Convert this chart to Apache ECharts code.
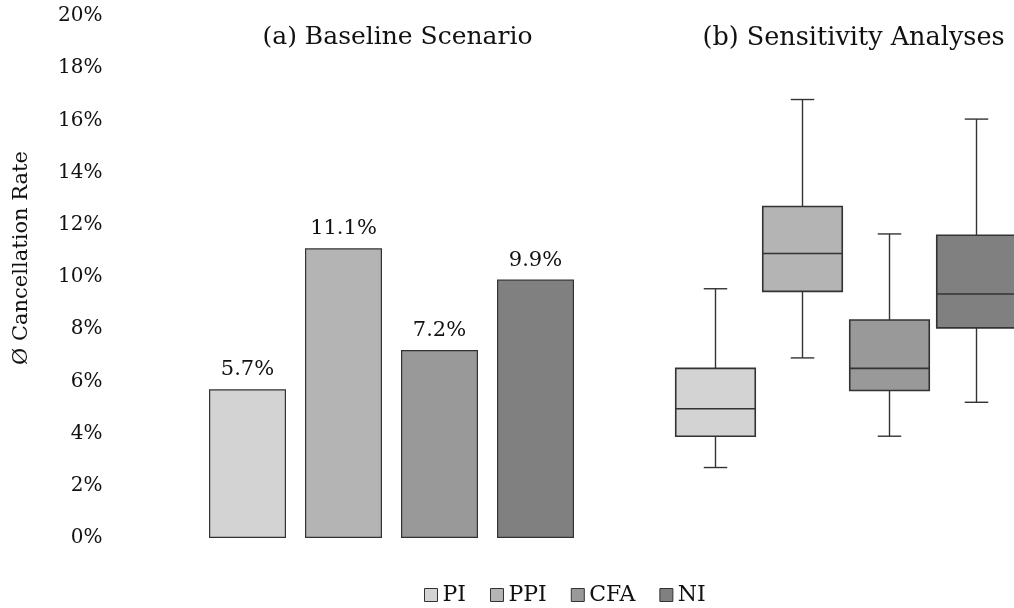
<!DOCTYPE html>
<html>
<head>
<meta charset="utf-8">
<script src="https://cdn.jsdelivr.net/npm/echarts@6/dist/echarts.min.js"></script>
<style>
  html, body { margin: 0; padding: 0; background: #fff; }
  #chart { width: 1014px; height: 608px; }
</style>
</head>
<body>
<div id="chart"></div>
<script>
// Cancellation rates per strategy (percent)
const categories = ['PI', 'PPI', 'CFA', 'NI'];
const baselineRates = [5.7, 11.1, 7.2, 9.9];

// Sensitivity analyses: whisker ends, quartiles and medians (percent)
const sensMin = [2.7, 6.9, 3.9, 5.2];
const sensQ1 = [3.9, 9.45, 5.65, 8.05];
const sensMedian = [4.95, 10.9, 6.5, 9.35];
const sensQ3 = [6.5, 12.7, 8.35, 11.6];
const sensMax = [9.55, 16.8, 11.65, 16.05];

const palette = ['#d3d3d3', '#b4b4b4', '#999999', '#808080'];
const edge = '#333333';
const FONT = 'DejaVu Serif';

const chart = echarts.init(document.getElementById('chart'), null, { renderer: 'canvas' });

const barSeries = categories.map(function (name, i) {
  return {
    name: name,
    type: 'bar',
    xAxisIndex: 0,
    yAxisIndex: 0,
    barWidth: 77,
    barGap: '-100%',
    data: categories.map(function (c, j) { return j === i ? baselineRates[i] : '-'; }),
    itemStyle: { color: palette[i], borderColor: edge, borderWidth: 1.2 },
    label: {
      show: true,
      position: 'top',
      distance: 9,
      formatter: '{c}%',
      fontFamily: FONT,
      fontSize: 21,
      color: '#111'
    },
    emphasis: { disabled: true },
    silent: true
  };
});

// Box panel uses a numeric x scale (category i sits at value i) so the
// last box can run off the right edge of the canvas.
const boxData = categories.map(function (c, i) {
  return [i, sensMin[i], sensQ1[i], sensMedian[i], sensQ3[i], sensMax[i]];
});

const boxSeries = {
  name: 'Sensitivity',
  type: 'custom',
  xAxisIndex: 1,
  yAxisIndex: 1,
  data: boxData,
  encode: { x: 0, y: [1, 2, 3, 4, 5] },
  silent: true,
  clip: false,
  renderItem: function (params, api) {
    const idx = api.value(0);
    const pMin = api.coord([idx, api.value(1)]);
    const pQ1 = api.coord([idx, api.value(2)]);
    const pMed = api.coord([idx, api.value(3)]);
    const pQ3 = api.coord([idx, api.value(4)]);
    const pMax = api.coord([idx, api.value(5)]);
    const band = api.size([1, 0])[0];
    const bw = band * 0.914;
    const cw = band * 0.27;
    const x = pMed[0];
    const lineStyle = { stroke: edge, lineWidth: 1.4, fill: null };
    return {
      type: 'group',
      children: [
        { type: 'line', shape: { x1: x, y1: pMax[1], x2: x, y2: pQ3[1] }, style: lineStyle },
        { type: 'line', shape: { x1: x, y1: pQ1[1], x2: x, y2: pMin[1] }, style: lineStyle },
        { type: 'line', shape: { x1: x - cw / 2, y1: pMax[1], x2: x + cw / 2, y2: pMax[1] }, style: lineStyle },
        { type: 'line', shape: { x1: x - cw / 2, y1: pMin[1], x2: x + cw / 2, y2: pMin[1] }, style: lineStyle },
        {
          type: 'rect',
          shape: { x: x - bw / 2, y: pQ3[1], width: bw, height: pQ1[1] - pQ3[1] },
          style: { fill: palette[idx], stroke: edge, lineWidth: 1.6 }
        },
        { type: 'line', shape: { x1: x - bw / 2, y1: pMed[1], x2: x + bw / 2, y2: pMed[1] }, style: { stroke: edge, lineWidth: 1.6 } }
      ]
    };
  }
};

const yBase = {
  type: 'value',
  min: 0,
  max: 20,
  interval: 2,
  splitLine: { show: false },
  axisLine: { show: false },
  axisTick: { show: false }
};

chart.setOption({
  animation: false,
  backgroundColor: '#ffffff',
  textStyle: { fontFamily: FONT },
  title: [
    {
      text: '(a) Baseline Scenario',
      left: 397.5,
      top: 25,
      padding: 0,
      textAlign: 'center',
      textStyle: { fontFamily: FONT, fontSize: 25, fontWeight: 'normal', color: '#111' }
    },
    {
      text: '(b) Sensitivity Analyses',
      left: 853.5,
      top: 25,
      padding: 0,
      textAlign: 'center',
      textStyle: { fontFamily: FONT, fontSize: 25.5, fontWeight: 'normal', color: '#111' }
    }
  ],
  legend: {
    data: categories,
    left: 419,
    top: 579,
    icon: 'rect',
    itemWidth: 13,
    itemHeight: 13,
    itemGap: 24,
    itemStyle: { borderColor: edge, borderWidth: 1 },
    textStyle: { fontFamily: FONT, fontSize: 22, color: '#111' },
    selectedMode: false
  },
  grid: [
    { left: 199.5, width: 384, top: 16, bottom: 70 },
    { left: 672, right: 0, top: 16, bottom: 70 }
  ],
  xAxis: [
    {
      type: 'category', gridIndex: 0, data: categories,
      axisLine: { show: false }, axisTick: { show: false }, axisLabel: { show: false }
    },
    {
      type: 'value', gridIndex: 1, min: -0.5, max: 3.431,
      axisLine: { show: false }, axisTick: { show: false }, axisLabel: { show: false },
      splitLine: { show: false }
    }
  ],
  yAxis: [
    Object.assign({}, yBase, {
      gridIndex: 0,
      name: 'Ø Cancellation Rate',
      nameLocation: 'middle',
      nameGap: 167,
      nameTextStyle: { fontFamily: FONT, fontSize: 21, color: '#111', padding: [0, 0, 0, 38] },
      axisLabel: { formatter: '{value}%', margin: 97, fontFamily: FONT, fontSize: 20, color: '#111' }
    }),
    Object.assign({}, yBase, { gridIndex: 1, axisLabel: { show: false } })
  ],
  series: barSeries.concat([boxSeries])
});
</script>
</body>
</html>
